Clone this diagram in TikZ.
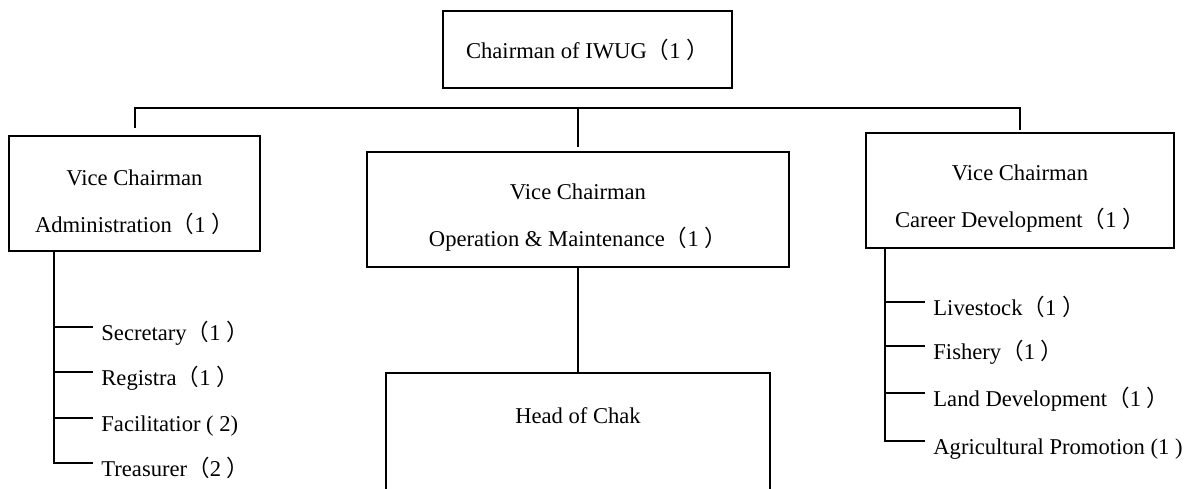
\documentclass[tikz,border=0pt]{standalone}
\usepackage{fontspec}
\setmainfont{Liberation Serif}
\newfontfamily\cjk{Noto Sans CJK SC}
\newcommand{\lp}{{\cjk （}}
\newcommand{\rp}{{\cjk ）}}
\begin{document}
\begin{tikzpicture}[x=0.5pt,y=-0.5pt,line cap=rect,
    box/.style={draw,line width=1pt,inner sep=0pt},
    txt/.style={align=center,font=\fontsize{11.3pt}{23.5pt}\selectfont},
    item/.style={anchor=west,inner xsep=4.5pt,inner ysep=0pt,text height=13pt,text depth=0pt,font=\fontsize{11.3pt}{13pt}\selectfont},
    wire/.style={line width=1pt}]
    \useasboundingbox (0,0) rectangle (1197,488);
    % boxes
    \node[box,txt,minimum width=144.5pt,minimum height=38.5pt] (chair) at (587.5,49.5) {Chairman of IWUG\lp1 \rp};
    \node[box,minimum width=125.5pt,minimum height=57.5pt] (adm) at (134.5,193.5) {};
    \node[box,minimum width=211pt,minimum height=57.5pt] (om) at (578,209.5) {};
    \node[box,minimum width=154pt,minimum height=57.5pt] (cd) at (1020,190.5) {};
    \node[box,minimum width=192pt,minimum height=63.5pt] (chak) at (578,436.5) {};
    \node[txt] (admT) at (134.5,202.5) {Vice Chairman\\Administration\lp1 \rp};
    \node[txt] (omT) at (578,217.5) {Vice Chairman\\Operation \& Maintenance\lp1 \rp};
    \node[txt] (cdT) at (1020,198.5) {Vice Chairman\\Career Development\lp1 \rp};
    \node[txt] (chakT) at (578,416) {Head of Chak};
    % bus
    \coordinate (bus) at (578,108);
    \draw[wire] ([yshift=4pt]adm.north) |- (bus) -| ([yshift=1.5pt]cd.north);
    \draw[wire] (bus) -- ([yshift=2.5pt]om.north);
    \draw[wire] (om.south) -- (chak.north);
    % administration list
    \coordinate (admX) at (54,0);
    \node[item] (sec) at (92,327) {Secretary\lp1 \rp};
    \node[item] (reg) at (92,372) {Registra\lp1 \rp};
    \node[item] (fac) at (92,418) {Facilitatior ( 2)};
    \node[item] (tre) at (92,463) {Treasurer\lp2 \rp};
    \draw[wire] (adm.south -| admX) |- (tre.west);
    \draw[wire] (sec.west) -- (sec.west -| admX); \draw[wire] (reg.west) -- (reg.west -| admX);
    \draw[wire] (fac.west) -- (fac.west -| admX);
    % career list
    \coordinate (cdX) at (885,0);
    \node[item] (liv) at (924,302) {Livestock\lp1 \rp};
    \node[item] (fis) at (924,346) {Fishery\lp1 \rp};
    \node[item] (land) at (924,393) {Land Development\lp1 \rp};
    \node[item] (agr) at (924,441) {Agricultural Promotion (1 )};
    \draw[wire] (cd.south -| cdX) |- (agr.west);
    \draw[wire] (liv.west) -- (liv.west -| cdX); \draw[wire] (fis.west) -- (fis.west -| cdX);
    \draw[wire] (land.west) -- (land.west -| cdX);
  \end{tikzpicture}
\end{document}
